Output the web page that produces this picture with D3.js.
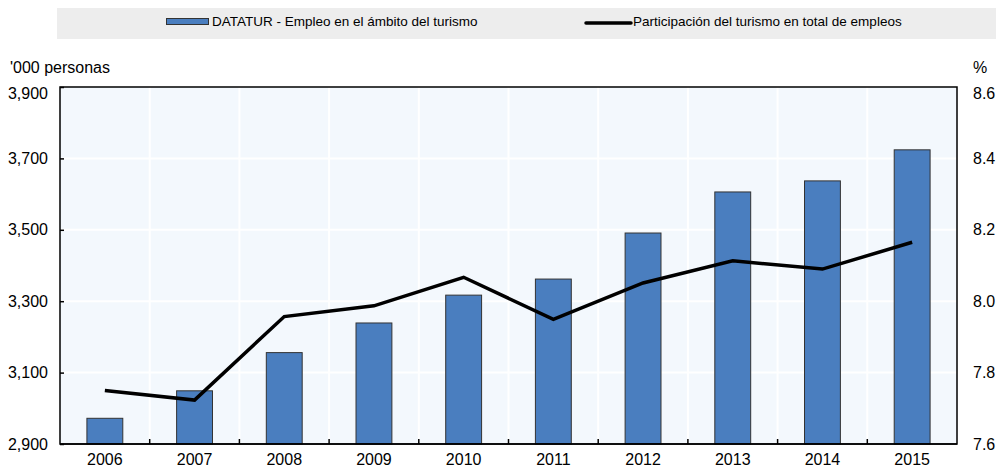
<!DOCTYPE html>
<html>
<head>
<meta charset="utf-8">
<script src="https://cdn.jsdelivr.net/npm/d3@7"></script>
<style>
  body { margin: 0; background: #fff; }
  svg { display: block; font-family: "Liberation Sans", Arial, sans-serif; }
</style>
</head>
<body>
<div id="chart"></div>
<script>
// Tourism employment (Mexico) - bars on left axis, share line on right axis
const years = ['2006', '2007', '2008', '2009', '2010', '2011', '2012', '2013', '2014', '2015'];
const empleo = [2972, 3049, 3156, 3239, 3317, 3362, 3491, 3606, 3637, 3724];
const participacion = [7.75, 7.723, 7.957, 7.987, 8.067, 7.949, 8.051, 8.113, 8.09, 8.165];
const leftTicks = [2900, 3100, 3300, 3500, 3700, 3900];
const rightTicks = [7.6, 7.8, 8.0, 8.2, 8.4, 8.6];
const barLabel = 'DATATUR - Empleo en el ámbito del turismo';
const lineLabel = 'Participación del turismo en total de empleos';

const W = 996, H = 468;
const plot = { left: 60, right: 957, top: 87, bottom: 444 };

const svg = d3.select('#chart').append('svg')
  .attr('width', W)
  .attr('height', H);

// Scales
const x = d3.scaleBand()
  .domain(years)
  .range([plot.left, plot.right])
  .padding(0);

const yLeft = d3.scaleLinear()
  .domain([2900, 3900])
  .range([plot.bottom, plot.top]);

const yRight = d3.scaleLinear()
  .domain([7.6, 8.6])
  .range([plot.bottom, plot.top]);

// Legend band
svg.append('rect')
  .attr('x', 57)
  .attr('y', 8)
  .attr('width', W - 57)
  .attr('height', 31)
  .attr('fill', '#ededed');

svg.append('rect')
  .attr('x', 166.5)
  .attr('y', 18.5)
  .attr('width', 42)
  .attr('height', 6)
  .attr('fill', '#4a7ebf')
  .attr('stroke', '#333')
  .attr('stroke-width', 1);

svg.append('text')
  .attr('x', 212)
  .attr('y', 26)
  .style('font-size', '13.5px')
  .attr('fill', '#000')
  .text(barLabel);

svg.append('line')
  .attr('x1', 586)
  .attr('x2', 631)
  .attr('y1', 23)
  .attr('y2', 23)
  .attr('stroke', '#000')
  .attr('stroke-width', 3.5)
  .attr('stroke-linecap', 'round');

svg.append('text')
  .attr('x', 633)
  .attr('y', 26)
  .style('font-size', '13.5px')
  .attr('fill', '#000')
  .text(lineLabel);

// Plot background
svg.append('rect')
  .attr('x', plot.left)
  .attr('y', plot.top)
  .attr('width', plot.right - plot.left)
  .attr('height', plot.bottom - plot.top)
  .attr('fill', '#f3f8fd');

// Gridlines
svg.append('g')
  .selectAll('line')
  .data(leftTicks.slice(1, -1))
  .enter().append('line')
  .attr('x1', plot.left)
  .attr('x2', plot.right)
  .attr('y1', d => yLeft(d))
  .attr('y2', d => yLeft(d))
  .attr('stroke', '#fff')
  .attr('stroke-width', 2);

svg.append('g')
  .selectAll('line')
  .data(years.slice(1))
  .enter().append('line')
  .attr('x1', d => x(d))
  .attr('x2', d => x(d))
  .attr('y1', plot.top)
  .attr('y2', plot.bottom)
  .attr('stroke', '#fff')
  .attr('stroke-width', 2);

// Bars
const barW = x.bandwidth() * 0.4;
svg.append('g')
  .selectAll('rect')
  .data(years.map((y, i) => ({ year: y, value: empleo[i] })))
  .enter().append('rect')
  .attr('x', d => x(d.year) + (x.bandwidth() - barW) / 2)
  .attr('y', d => yLeft(d.value))
  .attr('width', barW)
  .attr('height', d => plot.bottom - yLeft(d.value))
  .attr('fill', '#4a7ebf')
  .attr('stroke', '#333')
  .attr('stroke-width', 1);

// Line
const line = d3.line()
  .x(d => x(d.year) + x.bandwidth() / 2)
  .y(d => yRight(d.value));

svg.append('path')
  .datum(years.map((y, i) => ({ year: y, value: participacion[i] })))
  .attr('d', line)
  .attr('fill', 'none')
  .attr('stroke', '#000')
  .attr('stroke-width', 3.5)
  .attr('stroke-linejoin', 'miter');

// Plot frame
svg.append('rect')
  .attr('x', plot.left)
  .attr('y', plot.top)
  .attr('width', plot.right - plot.left)
  .attr('height', plot.bottom - plot.top)
  .attr('fill', 'none')
  .attr('stroke', '#000')
  .attr('stroke-width', 1.5);

// Left axis
const leftAxis = svg.append('g')
  .attr('transform', `translate(${plot.left},0)`)
  .call(d3.axisLeft(yLeft)
    .tickValues(leftTicks)
    .tickSize(-4)
    .tickPadding(12)
    .tickFormat(d3.format(',')));
leftAxis.select('.domain').remove();
leftAxis.selectAll('line').attr('stroke', '#000').attr('stroke-width', 1.5);
leftAxis.selectAll('text').style('font-size', '16px').attr('fill', '#000').attr('font-family', null);
// top label sits a little below the frame, as in the original
leftAxis.selectAll('.tick').filter(d => d === 3900).select('text').attr('y', 6);

// Right axis
const rightAxis = svg.append('g')
  .attr('transform', `translate(${plot.right},0)`)
  .call(d3.axisRight(yRight)
    .tickValues(rightTicks)
    .tickSize(0)
    .tickPadding(16)
    .tickFormat(d3.format('.1f')));
rightAxis.select('.domain').remove();
rightAxis.selectAll('text').style('font-size', '16px').attr('fill', '#000').attr('font-family', null);
rightAxis.selectAll('.tick').filter(d => d === 8.6).select('text').attr('y', 6);

// Bottom axis: labels centred, ticks at category boundaries
const bottomAxis = svg.append('g')
  .attr('transform', `translate(0,${plot.bottom})`)
  .call(d3.axisBottom(x).tickSize(0).tickPadding(10));
bottomAxis.select('.domain').remove();
bottomAxis.selectAll('text').style('font-size', '16px').attr('fill', '#000').attr('font-family', null);

svg.append('g')
  .selectAll('line')
  .data(years.slice(1))
  .enter().append('line')
  .attr('x1', d => x(d))
  .attr('x2', d => x(d))
  .attr('y1', plot.bottom)
  .attr('y2', plot.bottom - 5)
  .attr('stroke', '#000')
  .attr('stroke-width', 1.5);

svg.append('line')
  .attr('x1', plot.left)
  .attr('x2', plot.right)
  .attr('y1', plot.bottom)
  .attr('y2', plot.bottom)
  .attr('stroke', '#000')
  .attr('stroke-width', 1.5);

// Axis titles
svg.append('text')
  .attr('x', 10)
  .attr('y', 73)
  .style('font-size', '16px')
  .text("'000 personas");

svg.append('text')
  .attr('x', 973)
  .attr('y', 73)
  .style('font-size', '16px')
  .text('%');
</script>
</body>
</html>
